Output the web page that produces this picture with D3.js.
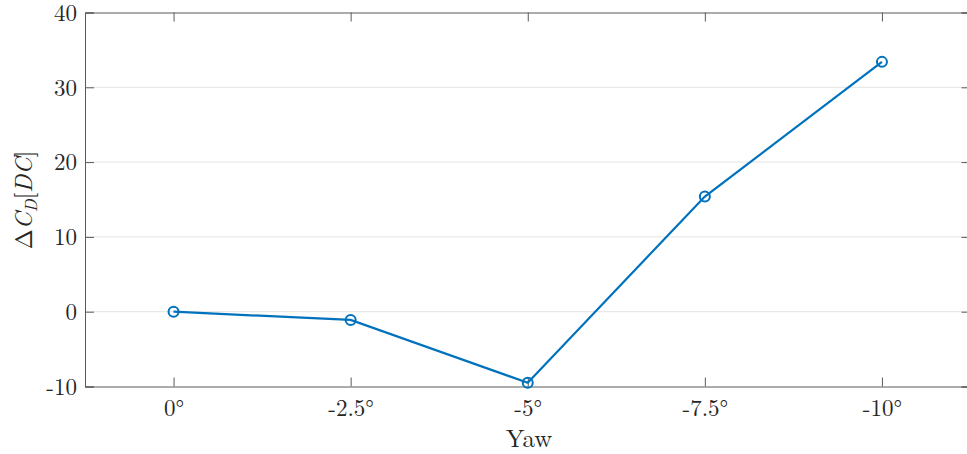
<!DOCTYPE html>
<html>
<head>
<meta charset="utf-8">
<script src="https://cdn.jsdelivr.net/npm/d3@7"></script>
<style>
	body { margin: 0; background: #fff; }
	svg text { font-family: "Latin Modern Roman", "CMU Serif", "Liberation Serif", "DejaVu Serif", serif; fill: #262626; }
</style>
</head>
<body>
<svg width="967" height="454"></svg>
<script>
// chart data
var yawLabels = ["0°", "-2.5°", "-5°", "-7.5°", "-10°"];
var deltaCd = [0, -1.1, -9.5, 15.4, 33.4];
var yTicks = [-10, 0, 10, 20, 30, 40];

var svg = d3.select("svg");
var plotL = 85, plotR = 970.5, plotT = 12.5, plotB = 386.5;

var x = d3.scaleLinear().domain([-0.5, yawLabels.length - 0.5]).range([plotL, plotR]);
var y = d3.scaleLinear().domain([-10, 40]).range([plotB, plotT]);

// horizontal grid
svg.append("g").selectAll("line.grid")
	.data(yTicks.filter(function(d) { return d > -10 && d < 40; }))
	.enter().append("line").attr("class", "grid")
		.attr("x1", plotL).attr("x2", plotR)
		.attr("y1", function(d) { return y(d); }).attr("y2", function(d) { return y(d); })
		.attr("stroke", "#e3e3e3").attr("stroke-width", 1);

// axes: left + bottom with labels, top + right mirrored ticks
var tickLen = 9;
var yAxis = d3.axisLeft(y).tickValues(yTicks).tickSize(-tickLen).tickFormat(function(d) { return String(d); });
var xAxis = d3.axisBottom(x).tickValues(d3.range(yawLabels.length)).tickSize(-tickLen)
	.tickFormat(function(d) { return yawLabels[d]; });

var gy = svg.append("g").attr("transform", "translate(" + plotL + ",0)").call(yAxis);
var gx = svg.append("g").attr("transform", "translate(0," + plotB + ")").call(xAxis);
svg.append("g").attr("transform", "translate(0," + plotT + ")")
	.call(d3.axisTop(x).tickValues(d3.range(yawLabels.length)).tickSize(-tickLen).tickFormat(""));
svg.append("g").attr("transform", "translate(" + plotR + ",0)")
	.call(d3.axisRight(y).tickValues(yTicks).tickSize(-tickLen).tickFormat(""));

svg.selectAll(".domain").attr("stroke", "#5a5a5a").attr("stroke-width", 1);
svg.selectAll(".tick line").attr("stroke", "#5a5a5a");
svg.selectAll(".tick text").attr("font-size", 23).attr("font-family", null);
gy.selectAll(".tick text").attr("x", -8).attr("dy", "0.34em");
gx.selectAll(".tick text").attr("y", 13);

// line + markers
var line = d3.line()
	.x(function(d, i) { return x(i); })
	.y(function(d) { return y(d); });

svg.append("path").datum(deltaCd)
	.attr("d", line)
	.attr("fill", "none").attr("stroke", "#0072BD").attr("stroke-width", 2.2);

svg.append("g").selectAll("circle")
	.data(deltaCd)
	.enter().append("circle")
		.attr("cx", function(d, i) { return x(i); })
		.attr("cy", function(d) { return y(d); })
		.attr("r", 5)
		.attr("fill", "none").attr("stroke", "#0072BD").attr("stroke-width", 2);

// axis titles
svg.append("text")
	.attr("x", 529).attr("y", 447)
	.attr("text-anchor", "middle").attr("font-size", 25)
	.text("Yaw");

var yl = svg.append("text")
	.attr("transform", "translate(32,200) rotate(-90)")
	.attr("text-anchor", "middle").attr("font-size", 24);
yl.append("tspan").text("Δ");
yl.append("tspan").attr("font-style", "italic").text("C");
yl.append("tspan").attr("font-style", "italic").attr("font-size", 17).attr("dy", 5).text("D");
yl.append("tspan").attr("dy", -5).text("[");
yl.append("tspan").attr("font-style", "italic").text("DC");
yl.append("tspan").text("]");
</script>
</body>
</html>
